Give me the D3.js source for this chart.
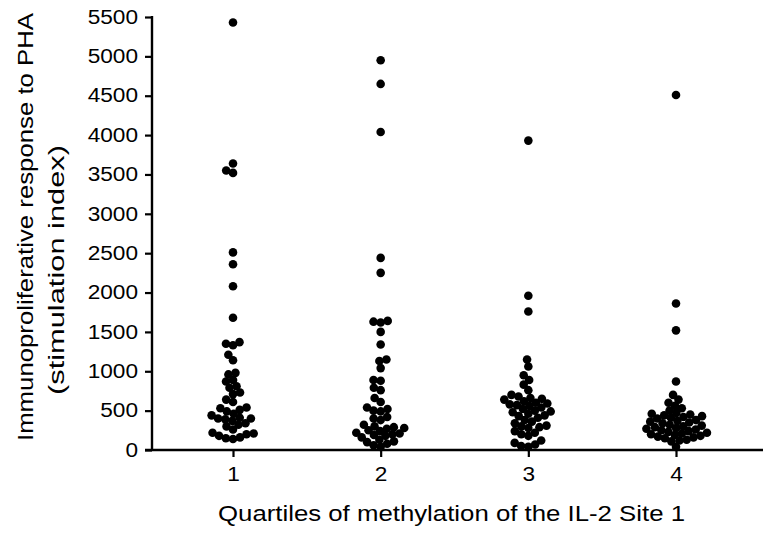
<!DOCTYPE html>
<html>
<head>
<meta charset="utf-8">
<script src="https://cdn.jsdelivr.net/npm/d3@7"></script>
<style>
  html, body { margin: 0; padding: 0; background: #fff; }
  svg { display: block; }
  text { font-family: "Liberation Sans", Arial, Helvetica, sans-serif; fill: #000; }
</style>
</head>
<body>
<svg id="chart" width="763" height="534"></svg>
<script>
// ---- data ----
const categories = ["1", "2", "3", "4"];
const quartile1 = [5430, 3640, 3550, 3520, 2510, 2360, 2080, 1680, 1370, 1350, 1330, 1210, 1140, 980, 960, 890, 870, 810, 790, 730, 710, 640, 610, 540, 530, 510, 490, 460, 440, 410, 400, 400, 390, 370, 340, 320, 300, 260, 220, 210, 200, 180, 160, 150, 140];
const quartile2 = [4950, 4650, 4040, 2440, 2250, 1640, 1630, 1620, 1500, 1340, 1150, 1130, 1040, 890, 880, 790, 760, 660, 610, 540, 520, 500, 490, 420, 400, 380, 320, 300, 290, 280, 270, 250, 240, 220, 210, 200, 190, 180, 160, 130, 110, 100, 80, 60, 40];
const quartile3 = [3930, 1960, 1760, 1150, 1060, 950, 890, 830, 760, 700, 680, 660, 650, 640, 620, 600, 590, 580, 570, 560, 540, 520, 500, 490, 480, 460, 440, 430, 410, 380, 360, 340, 310, 300, 290, 280, 240, 220, 200, 180, 120, 90, 70, 50, 40];
const quartile4 = [4510, 1860, 1520, 870, 700, 640, 600, 560, 530, 500, 470, 460, 450, 440, 430, 420, 410, 400, 380, 370, 360, 350, 340, 320, 310, 300, 290, 280, 270, 260, 250, 240, 230, 220, 210, 200, 190, 180, 170, 160, 150, 130, 120, 110, 40];
const yTickValues = [0, 500, 1000, 1500, 2000, 2500, 3000, 3500, 4000, 4500, 5000, 5500];
const xTitle = "Quartiles of methylation of the IL-2 Site 1";
const yTitleLines = ["Immunoproliferative response to PHA", "(stimulation index)"];

const series = [quartile1, quartile2, quartile3, quartile4];

// ---- scales ----
const svg = d3.select("#chart");
const x = d3.scalePoint().domain(categories).range([233, 676]);
const y = d3.scaleLinear().domain([0, 5500]).range([450, 17]);
const axisX0 = 152, axisY0 = 450;
const R = 4.3, D = 7.2;
const FONT = '"Liberation Sans", Arial, sans-serif';
const STRETCH = 1.16;

function widen(sel) {
  sel.each(function () {
    const w = this.getComputedTextLength();
    d3.select(this).attr("textLength", w * STRETCH).attr("lengthAdjust", "spacingAndGlyphs");
  });
}

// ---- axes ----
const yAxis = d3.axisLeft(y).tickValues(yTickValues).tickFormat(d3.format("d"))
  .tickSize(7).tickPadding(7).tickSizeOuter(0);
const gy = svg.append("g").attr("transform", `translate(${axisX0},0)`).call(yAxis);
gy.select(".domain").remove();
gy.selectAll(".tick line").attr("stroke", "#000").attr("stroke-width", 2.2);
gy.selectAll(".tick text").attr("font-size", 19.5).attr("font-family", FONT).attr("fill", "#000").call(widen);
svg.append("line").attr("x1", axisX0).attr("x2", axisX0).attr("y1", y(5500) - 1).attr("y2", axisY0)
  .attr("stroke", "#000").attr("stroke-width", 2.4);

const xAxis = d3.axisBottom(x).tickSize(7).tickPadding(10).tickSizeOuter(0);
const gx = svg.append("g").attr("transform", `translate(0,${axisY0})`).call(xAxis);
gx.select(".domain").remove();
gx.selectAll(".tick line").attr("stroke", "#000").attr("stroke-width", 2.2);
gx.selectAll(".tick text").attr("font-size", 19.5).attr("font-family", FONT).attr("fill", "#000").call(widen);
svg.append("line").attr("x1", 145).attr("x2", 763).attr("y1", axisY0).attr("y2", axisY0)
  .attr("stroke", "#000").attr("stroke-width", 2.4);

// ---- beeswarm layout ----
function swarm(values, cx) {
  const sorted = values.slice().sort((a, b) => a - b);
  const placed = [];
  sorted.forEach(v => {
    const py = y(v);
    const cands = [0];
    placed.forEach(p => {
      const dy = Math.abs(p.y - py);
      if (dy < D) {
        const dx = Math.sqrt(D * D - dy * dy);
        cands.push(p.dx + dx, p.dx - dx);
      }
    });
    cands.sort((a, b) => Math.abs(a) - Math.abs(b) || a - b);
    let chosen = 0;
    for (const c of cands) {
      const ok = placed.every(p => (p.dx - c) ** 2 + (p.y - py) ** 2 >= D * D - 0.01);
      if (ok) { chosen = c; break; }
    }
    placed.push({ v, y: py, dx: chosen });
  });
  return placed.map(p => ({ value: p.v, cx: cx + p.dx, cy: p.y }));
}

series.forEach((vals, i) => {
  const pts = swarm(vals, x(categories[i]));
  svg.append("g").selectAll("circle").data(pts).join("circle")
    .attr("cx", d => d.cx).attr("cy", d => d.cy).attr("r", R).attr("fill", "#000");
});

// ---- titles ----
svg.append("text").attr("x", 451.5).attr("y", 521).attr("text-anchor", "middle")
  .attr("font-size", 22.5).attr("textLength", 467).attr("lengthAdjust", "spacingAndGlyphs")
  .text(xTitle);

svg.append("text").attr("transform", "translate(33,227) rotate(-90)").attr("text-anchor", "middle")
  .attr("font-size", 22.5).attr("textLength", 428).attr("lengthAdjust", "spacingAndGlyphs")
  .text(yTitleLines[0]);
svg.append("text").attr("transform", "translate(64,270) rotate(-90)").attr("text-anchor", "middle")
  .attr("font-size", 22.5).attr("textLength", 250).attr("lengthAdjust", "spacingAndGlyphs")
  .text(yTitleLines[1]);
</script>
</body>
</html>
